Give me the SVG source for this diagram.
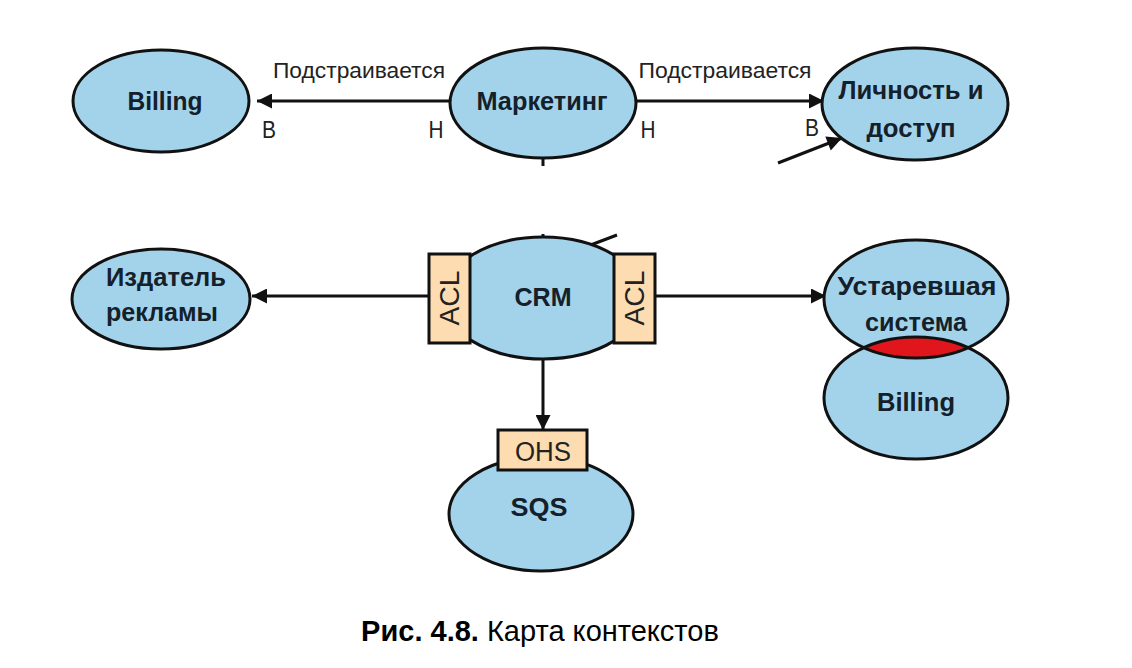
<svg xmlns="http://www.w3.org/2000/svg" width="1132" height="668" viewBox="0 0 1132 668">
<style>
.n{fill:#a3d3eb;stroke:#111;stroke-width:3}
.ns{fill:none;stroke:#111;stroke-width:3}
.b{fill:#fcdcb0;stroke:#111;stroke-width:3}
.t{font-family:"Liberation Sans",Arial,sans-serif;font-weight:bold;font-size:26px;fill:#14202a;text-anchor:middle}
.l{font-family:"Liberation Sans",Arial,sans-serif;font-size:22px;fill:#222;text-anchor:middle}
.u{font-family:"Liberation Sans",Arial,sans-serif;font-size:24px;fill:#222;text-anchor:middle}
.k{font-family:"Liberation Sans",Arial,sans-serif;font-size:27px;fill:#222;text-anchor:middle}
.c{stroke:#111;stroke-width:3;fill:none}
.a{stroke:#111;stroke-width:3;fill:none;marker-end:url(#ah)}
</style>
<defs>
<marker id="ah" viewBox="0 0 10 10" refX="10" refY="5" markerWidth="16" markerHeight="15" markerUnits="userSpaceOnUse" orient="auto"><path d="M0,0 L10,5 L0,10 z" fill="#111"/></marker>
<clipPath id="upclip"><ellipse cx="916" cy="299" rx="92" ry="59"/></clipPath>
</defs>
<rect width="1132" height="668" fill="#fff"/>
<g id="connectors">
<line class="a" x1="450" y1="101" x2="257" y2="101"/>
<line class="a" x1="637" y1="101" x2="824" y2="101"/>
<line class="c" x1="543" y1="156" x2="543" y2="166"/>
<line class="c" x1="543" y1="234" x2="543" y2="240"/>
<line class="c" x1="588" y1="246" x2="617" y2="235"/>
<line class="a" x1="778" y1="163" x2="842" y2="138"/>
<line class="a" x1="428" y1="296" x2="252" y2="296"/>
<line class="a" x1="655" y1="296" x2="826" y2="296"/>
<line class="a" x1="543" y1="358" x2="543" y2="430"/>
<text class="l" x="359" y="78" textLength="172" lengthAdjust="spacingAndGlyphs">Подстраивается</text>
<text class="l" x="725" y="78" textLength="173" lengthAdjust="spacingAndGlyphs">Подстраивается</text>
<text class="u" x="269" y="138" textLength="14" lengthAdjust="spacingAndGlyphs">В</text>
<text class="u" x="436" y="138" textLength="15" lengthAdjust="spacingAndGlyphs">Н</text>
<text class="u" x="648" y="138" textLength="15" lengthAdjust="spacingAndGlyphs">Н</text>
<text class="u" x="812" y="136" textLength="14" lengthAdjust="spacingAndGlyphs">В</text>
</g>
<g id="billing-top">
<ellipse class="n" cx="161" cy="101" rx="88" ry="51"/>
<text class="t" x="165" y="110" textLength="75" lengthAdjust="spacingAndGlyphs">Billing</text>
</g>
<g id="marketing">
<ellipse class="n" cx="543" cy="103" rx="93" ry="55"/>
<text class="t" x="542" y="110" textLength="131" lengthAdjust="spacingAndGlyphs">Маркетинг</text>
</g>
<g id="identity">
<ellipse class="n" cx="915" cy="104" rx="93" ry="56"/>
<text class="t" x="911" y="99" textLength="145" lengthAdjust="spacingAndGlyphs">Личность и</text>
<text class="t" x="911" y="137" textLength="89" lengthAdjust="spacingAndGlyphs">доступ</text>
</g>
<g id="publisher">
<ellipse class="n" cx="161" cy="299" rx="89" ry="50"/>
<text class="t" x="166" y="286" textLength="120" lengthAdjust="spacingAndGlyphs">Издатель</text>
<text class="t" x="162" y="321" textLength="112" lengthAdjust="spacingAndGlyphs">рекламы</text>
</g>
<g id="crm">
<ellipse class="n" cx="543" cy="298" rx="100" ry="61"/>
<text class="t" x="543" y="306" textLength="57" lengthAdjust="spacingAndGlyphs">CRM</text>
<rect class="b" x="429" y="254" width="41" height="89"/>
<text class="k" transform="translate(459,298) rotate(-90)" textLength="55" lengthAdjust="spacingAndGlyphs">ACL</text>
<rect class="b" x="614" y="254" width="41" height="89"/>
<text class="k" transform="translate(644,298) rotate(-90)" textLength="55" lengthAdjust="spacingAndGlyphs">ACL</text>
</g>
<g id="legacy">
<ellipse cx="916" cy="299" rx="92" ry="59" fill="#a3d3eb"/>
<ellipse cx="916" cy="398" rx="92" ry="61" fill="#a3d3eb"/>
<ellipse cx="916" cy="398" rx="92" ry="61" fill="#e0161c" clip-path="url(#upclip)"/>
<ellipse class="ns" cx="916" cy="299" rx="92" ry="59"/>
<ellipse class="ns" cx="916" cy="398" rx="92" ry="61"/>
<text class="t" x="917" y="295" textLength="159" lengthAdjust="spacingAndGlyphs">Устаревшая</text>
<text class="t" x="916" y="331" textLength="102" lengthAdjust="spacingAndGlyphs">система</text>
<text class="t" x="916" y="411" textLength="78" lengthAdjust="spacingAndGlyphs">Billing</text>
</g>
<g id="sqs">
<ellipse class="n" cx="541" cy="514" rx="92" ry="57"/>
<text class="t" x="539" y="516" textLength="57" lengthAdjust="spacingAndGlyphs">SQS</text>
<rect class="b" x="498" y="430" width="89" height="40"/>
<text class="k" x="543" y="461" textLength="56" lengthAdjust="spacingAndGlyphs">OHS</text>
</g>
<g id="caption">
<text x="540" y="641" style="font-family:'Liberation Sans',Arial,sans-serif;font-size:29px;fill:#000" text-anchor="middle"><tspan font-weight="bold">Рис. 4.8.</tspan> Карта контекстов</text>
</g>
</svg>
